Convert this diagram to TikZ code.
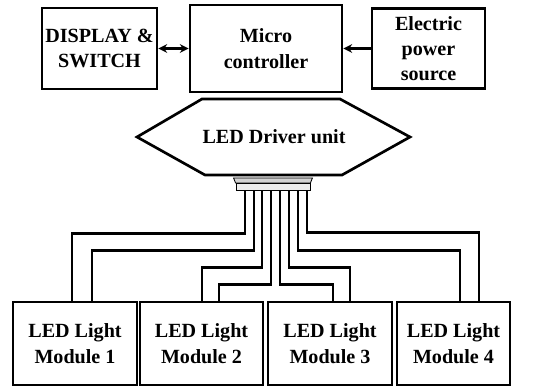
\documentclass[tikz,border=0pt]{standalone}
\usepackage{fontspec}
\setmainfont{Liberation Serif}
\usetikzlibrary{calc, arrows.meta}
\tikzset{
  block/.style={draw, line width=1.9pt, align=center, inner sep=1pt,
                font=\bfseries\fontsize{14.3}{18}\selectfont},
  link/.style={line width=2pt, -{Stealth[length=2.2mm, width=2.2mm]}},
  wire/.style={line width=1.9pt},
}

\begin{document}
\begin{tikzpicture}[x=0.025cm, y=-0.025cm]
  \useasboundingbox (0,0) rectangle (542,387);

  % top row
  \node[block, minimum width=2.875cm, minimum height=2.025cm] (disp) at (99.5,48.5) {DISPLAY \&\\SWITCH};
  \node[block, minimum width=3.8cm, minimum height=2.175cm] (micro) at (266,48.5) {Micro\\controller};
  \node[block, minimum width=2.825cm, minimum height=2cm] (power) at (428.5,48.5) {Electric\\power\\source};

  \draw[link, {Stealth[length=2.2mm, width=2.2mm]}-{Stealth[length=2.2mm, width=2.2mm]}] (disp) -- (micro);
  \draw[link] (power) -- (micro);

  % driver hexagon
  \draw[line width=1.9pt] (137,137) -- (202,99) -- (340,99) -- (410,137) -- (342,175) -- (205,175) -- cycle;
  \node[font=\bfseries\fontsize{14.3}{18}\selectfont] (drv) at (274,137) {LED Driver unit};

  % connector
  \node[draw, line width=0.6pt, fill=gray!15, minimum width=1.85cm, minimum height=0.18cm, inner sep=0pt] (bar) at (273,187) {};
  \draw[line width=0.6pt, fill=gray!35] (bar.north west) -- ++(-2,-5) -- ($(bar.north east)+(2,-5)$) -- (bar.north east) -- cycle;

  % modules
  \node[block, minimum width=3.1cm, minimum height=2.075cm] (m1) at (75,343.5) {LED Light\\Module 1};
  \node[block, minimum width=3.075cm, minimum height=2.075cm] (m2) at (201.5,343.5) {LED Light\\Module 2};
  \node[block, minimum width=3.1cm, minimum height=2.075cm] (m3) at (330,343.5) {LED Light\\Module 3};
  \node[block, minimum width=2.825cm, minimum height=2.075cm] (m4) at (453.5,343.5) {LED Light\\Module 4};

  % wires
  \foreach \so/\lv/\m/\off in {-28/-67/m1/-3, -19/-50/m1/17, -11/-33/m2/0.5, -2/-16/m2/17.5,
                               7/-16/m3/3, 16/-33/m3/20, 25/-50/m4/6.5, 34/-68/m4/25.5}
    \draw[wire] ($(bar.south)+(\so,0)$) |- ($(\m.north)+(\off,\lv)$) -- ($(\m.north)+(\off,0)$);
\end{tikzpicture}
\end{document}
